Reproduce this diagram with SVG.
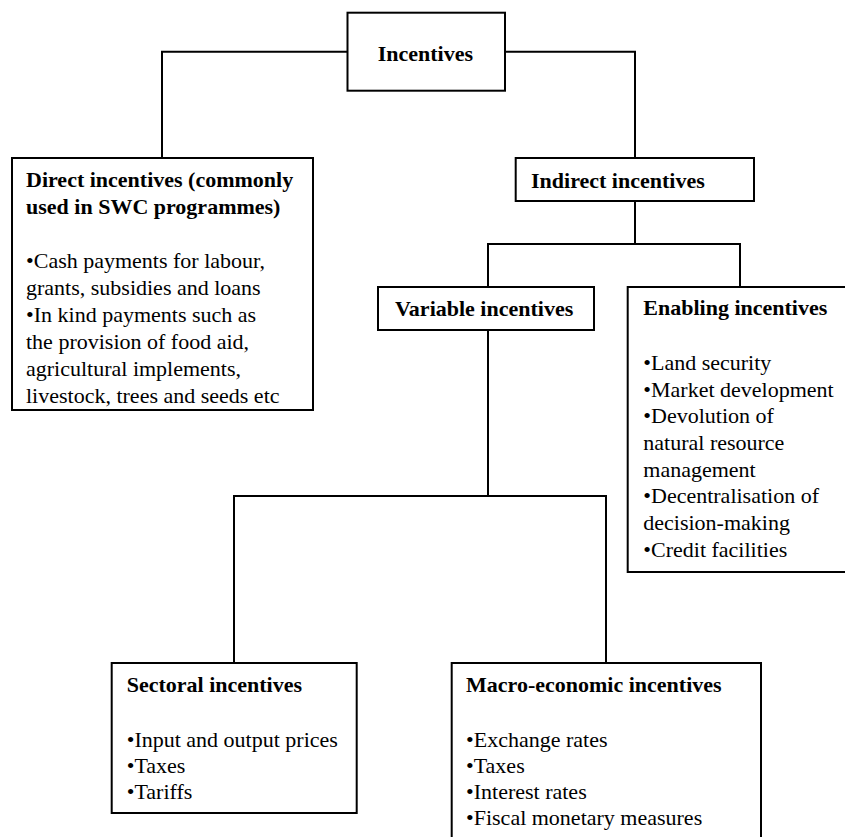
<svg xmlns="http://www.w3.org/2000/svg" width="845" height="837" viewBox="0 0 845 837">
<style>
  .box { fill: #ffffff; stroke: #000000; stroke-width: 2; }
  .conn { fill: none; stroke: #000000; stroke-width: 2; }
  text { font-family: "Liberation Serif", "Times New Roman", serif; font-size: 22px; fill: #000000; }
  .t { font-weight: bold; }
</style>
<rect x="0" y="0" width="845" height="837" fill="#ffffff"/>
<g id="connectors">
  <polyline class="conn" points="347.5,51.7 162,51.7 162,158"/>
  <polyline class="conn" points="505,51.7 635,51.7 635,158"/>
  <line class="conn" x1="635" y1="201" x2="635" y2="244"/>
  <polyline class="conn" points="488,287 488,244 740,244 740,287"/>
  <line class="conn" x1="488" y1="330" x2="488" y2="496"/>
  <polyline class="conn" points="234,663 234,496 606,496 606,663"/>
</g>
<g id="incentives">
  <rect class="box" x="347.5" y="12.7" width="157.5" height="78"/>
  <text class="t" x="377.7" y="61">Incentives</text>
</g>
<g id="direct">
  <rect class="box" x="12" y="158" width="301" height="252"/>
  <text class="t" x="26" y="187">Direct incentives (commonly</text>
  <text class="t" x="26" y="213.5">used in SWC programmes)</text>
  <text x="26" y="268">•Cash payments for labour,</text>
  <text x="26" y="295">grants, subsidies and loans</text>
  <text x="26" y="322">•In kind payments such as</text>
  <text x="26" y="349">the provision of food aid,</text>
  <text x="26" y="376">agricultural implements,</text>
  <text x="26" y="403">livestock, trees and seeds etc</text>
</g>
<g id="indirect">
  <rect class="box" x="515.7" y="158" width="238.3" height="43"/>
  <text class="t" x="531" y="188">Indirect incentives</text>
</g>
<g id="variable">
  <rect class="box" x="378" y="287" width="216" height="43"/>
  <text class="t" x="395" y="316">Variable incentives</text>
</g>
<g id="enabling">
  <rect class="box" x="627.7" y="287" width="220" height="285"/>
  <text class="t" x="643.3" y="315">Enabling incentives</text>
  <text x="643.3" y="370">•Land security</text>
  <text x="643.3" y="396.7">•Market development</text>
  <text x="643.3" y="423.4">•Devolution of</text>
  <text x="643.3" y="450">natural resource</text>
  <text x="643.3" y="476.7">management</text>
  <text x="643.3" y="503.4">•Decentralisation of</text>
  <text x="643.3" y="530">decision-making</text>
  <text x="643.3" y="556.7">•Credit facilities</text>
</g>
<g id="sectoral">
  <rect class="box" x="111.7" y="663" width="245" height="150"/>
  <text class="t" x="126.7" y="692.3">Sectoral incentives</text>
  <text x="126.7" y="747.3">•Input and output prices</text>
  <text x="126.7" y="773.3">•Taxes</text>
  <text x="126.7" y="799.3">•Tariffs</text>
</g>
<g id="macro">
  <rect class="box" x="451.7" y="663" width="309.3" height="180"/>
  <text class="t" x="466" y="692.3">Macro-economic incentives</text>
  <text x="466" y="747.3">•Exchange rates</text>
  <text x="466" y="773.3">•Taxes</text>
  <text x="466" y="799.3">•Interest rates</text>
  <text x="466" y="825.3">•Fiscal monetary measures</text>
</g>
</svg>
